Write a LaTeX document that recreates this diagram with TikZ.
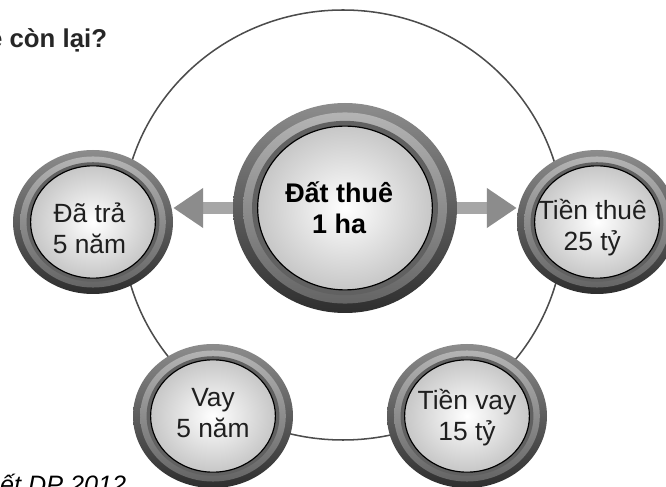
\documentclass[tikz,border=0pt]{standalone}
\usepackage{fontspec}
\setmainfont{Liberation Sans}
\usetikzlibrary{shapes.geometric,arrows.meta}

\tikzset{
  knob/.style 2 args={ellipse, inner sep=0pt,
    minimum width={2*#1*0.03cm}, minimum height={2*#2*0.03cm},
    top color=black!45, bottom color=black!82,
    path picture={
      \shade[top color=black!28, bottom color=black!62]
        (path picture bounding box.center) ellipse [x radius=0.91*#1, y radius=0.91*#2];
      \fill[black!62] (path picture bounding box.center) ellipse [x radius=0.83*#1, y radius=0.83*#2];
      \shadedraw[inner color=white, outer color=black!22, draw=black, line width=1pt]
        (path picture bounding box.center) ellipse [x radius=0.78*#1, y radius=0.78*#2];
    }},
  knobtext/.style={align=center, inner sep=0pt, text=black!88, font=\fontsize{22.5}{26.5}\selectfont},
  bigtext/.style={knobtext, text=black, font=\bfseries\fontsize{23}{26.5}\selectfont},
  orbit/.style={draw=black!70, line width=1.3pt},
  bigarrow/.style={draw=black!35, line width=0.36cm,
    -{Triangle[length=0.9cm, width=1.14cm, color=black!45]}}
}

\begin{document}
\begin{tikzpicture}[x=0.03cm, y=-0.03cm]
\useasboundingbox (0,0) rectangle (666,487);
\fill[white] (0,0) rectangle (666,487);

% the ring behind the knobs
\draw[orbit] (343,225) ellipse [x radius=221, y radius=215];

\node[knob={112}{105}] (dat) at (345,208) {};
\node[knob={80}{72}] (tra) at (93,222) {};
\node[knob={80}{72}] (thue) at (597,222) {};
\node[knob={80}{72}] (vay) at (213,416) {};
\node[knob={80}{72}] (tvay) at (467,416) {};

\node[bigtext] (dat-t) at ([xshift=-5pt]dat.center) {Đất thuê\\1 ha};
\node[knobtext] (tra-t) at ([xshift=-3pt, yshift=-5pt]tra.center) {Đã trả\\5 năm};
\node[knobtext] (thue-t) at ([xshift=-4pt, yshift=-5pt]thue.center) {Tiền thuê\\25 tỷ};
\node[knobtext] (vay-t) at ([yshift=2.5pt]vay.center) {Vay\\5 năm};
\node[knobtext] (tvay-t) at ([yshift=-1.5pt]tvay.center) {Tiền vay\\15 tỷ};

\draw[bigarrow] (dat.west) -- (tra.east |- dat.west);
\draw[bigarrow] (dat.east) -- (thue.west |- dat.east);

\node[anchor=base west, font=\bfseries\fontsize{22}{26}\selectfont, text=black!85] (title) at (-16,48) {ê còn lại?};
\node[anchor=base west, font=\itshape\fontsize{21.5}{25}\selectfont] (src) at (-4,494) {ết DP 2012};
\end{tikzpicture}
\end{document}
